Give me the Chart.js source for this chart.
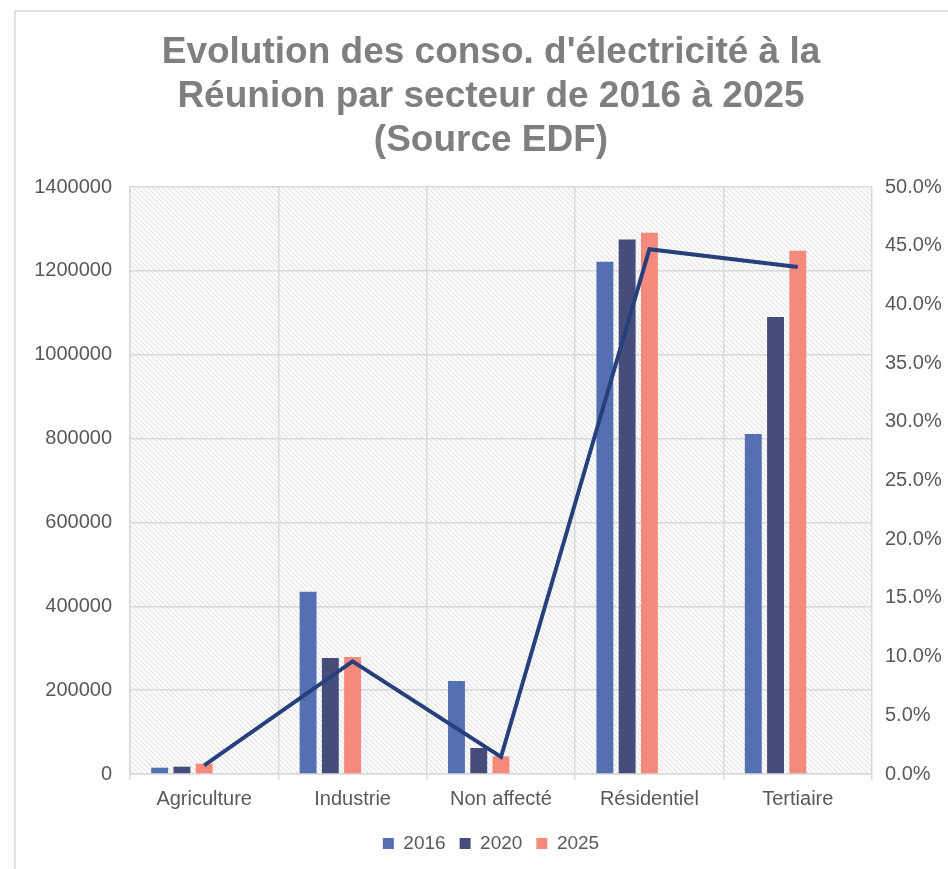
<!DOCTYPE html>
<html>
<head>
<meta charset="utf-8">
<script src="https://cdn.jsdelivr.net/npm/chart.js@4.4.0/dist/chart.umd.min.js"></script>
<style>
html,body{margin:0;padding:0;background:#fff;}
#wrap{position:relative;width:948px;height:869px;}
</style>
</head>
<body>
<div id="wrap"><canvas id="c" width="948" height="869"></canvas></div>
<script>
const categories = ['Agriculture', 'Industrie', 'Non affecté', 'Résidentiel', 'Tertiaire'];
const conso2016 = [15000, 435000, 222000, 1222000, 811000];
const conso2020 = [17500, 277000, 62000, 1275000, 1090000];
const conso2025 = [24500, 279000, 42000, 1291000, 1248000];
const emptySlotA = [null, null, null, null, null];
const emptySlotB = [null, null, null, null, null];
const part2025 = [0.74, 9.6, 1.45, 44.7, 43.2];
const titleLines = ["Evolution des conso. d'électricité à la", "Réunion par secteur de 2016 à 2025", "(Source EDF)"];

const FONT = "'Liberation Sans', Arial, sans-serif";
const TXT = '#595959';
const GRID = '#D9D9D9';

function makePattern() {
  const p = 5;
  const c = document.createElement('canvas');
  c.width = p; c.height = p;
  const g = c.getContext('2d');
  g.fillStyle = '#ffffff';
  g.fillRect(0, 0, p, p);
  g.strokeStyle = '#E1E1E1';
  g.lineWidth = 1.2;
  for (const off of [-p, 0, p]) {
    g.beginPath();
    g.moveTo(off - 1, -1);
    g.lineTo(off + p + 1, p + 1);
    g.stroke();
  }
  return g.createPattern(c, 'repeat');
}

const bgPlugin = {
  id: 'bg',
  beforeDraw(chart) {
    const ctx = chart.ctx;
    const a = chart.chartArea;
    ctx.save();
    ctx.strokeStyle = '#D9D9D9';
    ctx.lineWidth = 1.5;
    ctx.beginPath();
    ctx.moveTo(15, 869);
    ctx.lineTo(15, 11);
    ctx.lineTo(948, 11);
    ctx.stroke();
    ctx.fillStyle = makePattern();
    ctx.fillRect(a.left, a.top, a.right - a.left, a.bottom - a.top);
    ctx.restore();
  }
};

new Chart(document.getElementById('c'), {
  type: 'bar',
  data: {
    labels: categories,
    datasets: [
      { type: 'line', label: 'Part 2025', data: part2025, yAxisID: 'y1', borderColor: '#27407B', backgroundColor: '#27407B', borderWidth: 4, pointRadius: 0, tension: 0, order: 0 },
      { label: '2016', data: conso2016, backgroundColor: '#5470B3', yAxisID: 'y', order: 1 },
      { label: '2020', data: conso2020, backgroundColor: '#474D7B', yAxisID: 'y', order: 1 },
      { label: '2025', data: conso2025, backgroundColor: '#F4897C', yAxisID: 'y', order: 1 },
      { label: '', data: emptySlotA, backgroundColor: 'rgba(0,0,0,0)', yAxisID: 'y', order: 1 },
      { label: '', data: emptySlotB, backgroundColor: 'rgba(0,0,0,0)', yAxisID: 'y', order: 1 }
    ]
  },
  options: {
    responsive: false,
    animation: false,
    devicePixelRatio: 1,
    datasets: { bar: { categoryPercentage: 0.75, barPercentage: 0.76 } },
    layout: { padding: { left: 34, right: 0, top: 23, bottom: 6 } },
    plugins: {
      title: {
        display: true,
        text: titleLines,
        color: '#7F7F7F',
        font: { family: FONT, size: 37, weight: 'bold', lineHeight: 1.19 },
        padding: { top: 8, bottom: 24 }
      },
      legend: {
        position: 'bottom',
        labels: {
          color: TXT,
          font: { family: FONT, size: 19 },
          boxWidth: 11, boxHeight: 11,
          padding: 14,
          filter: (item) => ['2016', '2020', '2025'].includes(item.text)
        }
      },
      tooltip: { enabled: false }
    },
    scales: {
      x: {
        grid: { color: GRID, lineWidth: 1.5, offset: true, drawTicks: true, tickLength: 6 },
        border: { color: GRID, width: 1.5 },
        ticks: { color: TXT, font: { family: FONT, size: 20 }, padding: 7, maxRotation: 0 },
        afterFit: (s) => { s.height = 46; }
      },
      y: {
        position: 'left',
        min: 0, max: 1400000,
        ticks: { stepSize: 200000, color: TXT, font: { family: FONT, size: 20 }, padding: 18, callback: (v) => String(v) },
        grid: { color: GRID, lineWidth: 1.5, drawTicks: false },
        border: { color: GRID, width: 1.5 },
        afterFit: (s) => { s.width = 96; }
      },
      y1: {
        position: 'right',
        min: 0, max: 50,
        ticks: { stepSize: 5, color: TXT, font: { family: FONT, size: 20 }, padding: 13, callback: (v) => v.toFixed(1) + '%' },
        grid: { display: false, drawTicks: false },
        border: { display: false },
        afterFit: (s) => { s.width = 76; }
      }
    }
  },
  plugins: [bgPlugin]
});
</script>
</body>
</html>
